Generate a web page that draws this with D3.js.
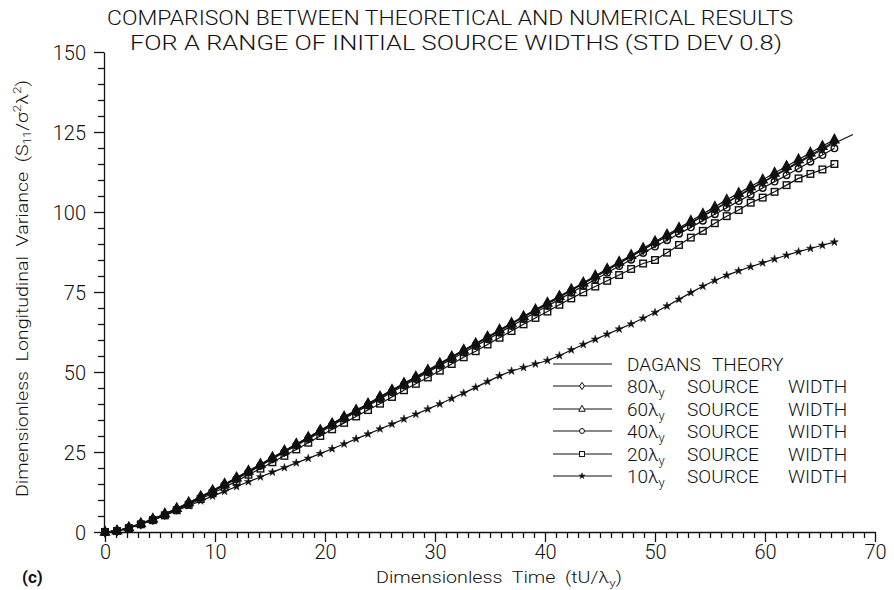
<!DOCTYPE html>
<html>
<head>
<meta charset="utf-8">
<script src="https://cdn.jsdelivr.net/npm/d3@7"></script>
<style>
  body { margin: 0; background: #fff; }
  text { font-family: Roboto, "DejaVu Sans", sans-serif; font-weight: 300; fill: #111; }
</style>
</head>
<body>
<svg id="chart" width="894" height="590"></svg>
<script>
// sample times of the numerical runs (tU/lambda_y)
const time = [0, 1.09, 2.17, 3.26, 4.35, 5.44, 6.52, 7.61, 8.70, 9.78, 10.87, 11.96, 13.04, 14.13, 15.22, 16.31, 17.39, 18.48, 19.57, 20.65,
  21.74, 22.83, 23.91, 25.00, 26.09, 27.18, 28.26, 29.35, 30.44, 31.52, 32.61, 33.70, 34.78, 35.87, 36.96, 38.05, 39.13, 40.22, 41.31, 42.39,
  43.48, 44.57, 45.65, 46.74, 47.83, 48.92, 50.00, 51.09, 52.18, 53.26, 54.35, 55.44, 56.52, 57.61, 58.70, 59.79, 60.87, 61.96, 63.05, 64.13,
  65.22, 66.31];

const width80 = [0, 0.4, 1.4, 2.6, 4.0, 5.6, 7.3, 9.1, 11.0, 12.9, 14.9, 16.9, 19.0, 21.1, 23.2, 25.3, 27.4, 29.5, 31.7, 33.8,
  35.9, 38.0, 40.0, 42.2, 44.3, 46.4, 48.4, 50.5, 52.6, 54.7, 56.8, 58.8, 60.9, 63.0, 65.1, 67.2, 69.3, 71.4, 73.5, 75.6,
  77.7, 79.8, 81.9, 84.1, 86.2, 88.3, 90.4, 92.5, 94.6, 96.7, 98.8, 100.9, 103.0, 105.2, 107.3, 109.4, 111.5, 113.6, 115.7, 117.8,
  119.9, 122.0];
const width60 = [0, 0.4, 1.4, 2.7, 4.1, 5.7, 7.4, 9.2, 11.1, 13.0, 15.0, 17.0, 19.1, 21.2, 23.3, 25.4, 27.5, 29.6, 31.8, 33.9,
  36.0, 38.1, 40.1, 42.3, 44.4, 46.5, 48.5, 50.6, 52.7, 54.8, 56.9, 58.9, 61.0, 63.2, 65.3, 67.4, 69.5, 71.6, 73.7, 75.8,
  77.9, 80.1, 82.2, 84.4, 86.5, 88.7, 90.8, 92.9, 95.0, 97.2, 99.4, 101.6, 103.8, 105.9, 108.0, 110.1, 112.2, 114.3, 116.4, 118.5,
  120.6, 122.6];
const width40 = [0, 0.35, 1.3, 2.5, 3.9, 5.4, 7.0, 8.8, 10.7, 12.6, 14.6, 16.6, 18.6, 20.7, 22.8, 24.9, 27.0, 29.1, 31.2, 33.3,
  35.4, 37.5, 39.5, 41.6, 43.7, 45.8, 47.8, 49.9, 52.0, 54.0, 56.1, 58.1, 60.2, 62.3, 64.4, 66.5, 68.6, 70.6, 72.7, 74.8,
  76.9, 78.9, 81.0, 83.1, 85.1, 87.2, 89.2, 91.2, 93.2, 95.2, 97.3, 99.3, 101.3, 103.4, 105.4, 107.5, 109.5, 111.5, 113.6, 115.7,
  117.8, 119.9];
const width20 = [0, 0.3, 1.2, 2.4, 3.7, 5.2, 6.8, 8.5, 10.3, 12.1, 14.0, 15.9, 17.9, 19.8, 21.8, 23.8, 25.8, 27.9, 30.0, 32.1,
  34.1, 36.1, 38.1, 40.1, 42.2, 44.3, 46.3, 48.3, 50.4, 52.5, 54.6, 56.5, 58.6, 60.7, 62.8, 64.9, 66.9, 68.9, 71.0, 73.0,
  74.9, 76.7, 78.5, 80.3, 82.2, 83.9, 85.0, 87.3, 89.7, 92.0, 94.1, 96.5, 98.7, 100.6, 102.9, 104.5, 106.3, 108.4, 110.5, 111.9,
  113.3, 115.0];
const width10 = [0, 0.35, 1.3, 2.5, 3.8, 5.2, 6.7, 8.2, 9.7, 11.2, 12.7, 14.2, 15.7, 17.2, 18.7, 20.1, 21.6, 23.0, 24.5, 26.0,
  27.5, 29.1, 30.6, 32.2, 33.7, 35.3, 36.8, 38.4, 40.0, 41.7, 43.4, 45.2, 47.0, 48.8, 50.3, 51.4, 52.5, 53.6, 55.1, 56.9,
  58.6, 60.2, 61.8, 63.4, 65.0, 66.8, 68.6, 70.6, 72.7, 74.8, 76.8, 78.6, 80.2, 81.6, 82.9, 84.1, 85.3, 86.5, 87.6, 88.6,
  89.6, 90.6];

// Dagan's theory curve
const theoryTime = [0, 1, 2, 3, 4, 5, 6, 7, 8, 9, 10, 12, 14, 16, 18, 20, 22, 24, 26, 28, 30, 32, 34, 36, 38, 40,
  42, 44, 46, 48, 50, 52, 54, 56, 58, 60, 62, 64, 66, 68];
const theoryValues = [0, 0.3, 1.1, 2.2, 3.4, 4.8, 6.3, 7.9, 9.6, 11.3, 13.1, 16.8, 20.6, 24.5, 28.4, 32.3, 36.2, 40.0, 43.9, 47.7,
  51.5, 55.4, 59.2, 63.1, 67.0, 70.8, 74.7, 78.6, 82.5, 86.4, 90.3, 94.1, 98.0, 101.9, 105.8, 109.6, 113.4, 117.2, 121.0, 124.2];

const seriesNames = ["80", "60", "40", "20", "10"];
const seriesMarkers = ["diamond", "triangle", "circle", "square", "star"];
const seriesValues = [width80, width60, width40, width20, width10];

const xTicks = [0, 10, 20, 30, 40, 50, 60, 70];
const yTicks = [0, 25, 50, 75, 100, 125, 150];

const svg = d3.select("#chart");
const ink = "#111";

const x = d3.scaleLinear().domain([0, 70]).range([105, 875]);
const y = d3.scaleLinear().domain([0, 150]).range([532, 52]);

// marker drawing, centred on 0,0 (inPlot = heavier marks used in the plot area)
function drawMarker(g, type, s, inPlot) {
  const open = inPlot ? "none" : "#fff";
  const sw = inPlot ? 1.4 : 1.0;
  switch (type) {
    case "diamond":
      return g.append("path").attr("d", `M0,${-4.8 * s}L${3.2 * s},0L0,${4.8 * s}L${-3.2 * s},0Z`)
        .attr("fill", inPlot ? ink : "#fff").attr("stroke", ink).attr("stroke-width", sw);
    case "triangle":
      return g.append("path").attr("d", `M0,${-5 * s}L${4.3 * s},${3 * s}L${-4.3 * s},${3 * s}Z`)
        .attr("fill", open).attr("stroke", ink).attr("stroke-width", inPlot ? 1.6 : 1.0);
    case "circle":
      return g.append("circle").attr("r", 3.3 * s)
        .attr("fill", open).attr("stroke", ink).attr("stroke-width", sw);
    case "square":
      return g.append("rect").attr("x", -3.3 * s).attr("y", -3.3 * s).attr("width", 6.6 * s).attr("height", 6.6 * s)
        .attr("fill", open).attr("stroke", ink).attr("stroke-width", sw);
    default:
      return g.append("path").attr("d", d3.symbol(d3.symbolStar, 20 * s * s)())
        .attr("fill", ink).attr("stroke", ink).attr("stroke-width", 0.5);
  }
}

// axes
const yMinor = d3.range(0, 151, 5).filter(v => v % 25 !== 0);
const xMinor = d3.range(0, 71, 1).filter(v => v % 10 !== 0);

svg.append("g").attr("transform", "translate(104,0)")
  .call(d3.axisLeft(y).tickValues(yMinor).tickSize(6).tickSizeOuter(0).tickFormat(""))
  .call(g => g.select(".domain").remove());
const yAxis = svg.append("g").attr("transform", "translate(104,0)")
  .call(d3.axisLeft(y).tickValues(yTicks).tickSize(10).tickSizeOuter(0).tickPadding(8).tickFormat(d3.format("d")));
yAxis.selectAll("text").attr("font-size", 20).attr("fill", ink).attr("dy", "0.35em");

svg.append("g").attr("transform", "translate(0,532)")
  .call(d3.axisBottom(x).tickValues(xMinor).tickSize(6).tickSizeOuter(0).tickFormat(""))
  .call(g => g.select(".domain").remove());
const xAxis = svg.append("g").attr("transform", "translate(0,532)")
  .call(d3.axisBottom(x).tickValues(xTicks).tickSize(10).tickSizeOuter(0).tickPadding(3).tickFormat(d3.format("d")));
xAxis.selectAll("text").attr("font-size", 20).attr("fill", ink);

svg.selectAll(".domain, .tick line").attr("stroke", ink).attr("stroke-width", 1.3);
svg.selectAll(".tick text").style("font-family", "Roboto, 'DejaVu Sans', sans-serif").style("font-weight", 300);

// curves
const line = d3.line().x(d => x(d[0])).y(d => y(d[1]));

svg.append("path")
  .datum(d3.zip(theoryTime, theoryValues))
  .attr("d", line)
  .attr("fill", "none").attr("stroke", ink).attr("stroke-width", 1.2);

seriesValues.forEach((vals, i) => {
  const pts = d3.zip(time, vals);
  svg.append("path").datum(pts).attr("d", line)
    .attr("fill", "none").attr("stroke", ink).attr("stroke-width", 1.2);
  const mg = svg.append("g");
  pts.forEach(p => {
    const g = mg.append("g").attr("transform", `translate(${x(p[0])},${y(p[1])})`);
    drawMarker(g, seriesMarkers[i], 1, true);
  });
});

// legend
const legendRows = [364, 386, 409, 431, 454, 476];
const legend = svg.append("g");
legendRows.forEach((ry, i) => {
  legend.append("line").attr("x1", 553).attr("x2", 612).attr("y1", ry).attr("y2", ry)
    .attr("stroke", ink).attr("stroke-width", 1.2);
  if (i > 0) {
    const g = legend.append("g").attr("transform", `translate(582,${ry})`);
    drawMarker(g, seriesMarkers[i - 1], 0.75, false);
  }
  const t = legend.append("text").attr("y", ry + 7).attr("font-size", 19);
  if (i === 0) {
    t.append("tspan").attr("x", 627).text("DAGANS");
    t.append("tspan").attr("x", 712).text("THEORY");
  } else {
    t.append("tspan").attr("x", 627).text(seriesNames[i - 1] + "λ");
    t.append("tspan").attr("font-size", 13).attr("dy", 4).text("y");
    t.append("tspan").attr("x", 687).attr("dy", -4).text("SOURCE");
    t.append("tspan").attr("x", 788).text("WIDTH");
  }
});

// titles
svg.append("text").attr("x", 107).attr("y", 25).attr("font-size", 21)
  .attr("textLength", 686).attr("lengthAdjust", "spacingAndGlyphs")
  .text("COMPARISON BETWEEN THEORETICAL AND NUMERICAL RESULTS");
svg.append("text").attr("x", 130).attr("y", 50).attr("font-size", 21)
  .attr("textLength", 652).attr("lengthAdjust", "spacingAndGlyphs")
  .text("FOR A RANGE OF INITIAL SOURCE WIDTHS (STD DEV 0.8)");

// axis titles
const yt = svg.append("text").attr("transform", "translate(28,497) rotate(-90)")
  .attr("font-size", 16).attr("textLength", 417).attr("lengthAdjust", "spacingAndGlyphs")
  .attr("xml:space", "preserve");
yt.append("tspan").text("Dimensionless  Longitudinal  Variance  (S");
yt.append("tspan").attr("font-size", 10).attr("dy", 3).text("11");
yt.append("tspan").attr("dy", -3).text("/σ");
yt.append("tspan").attr("font-size", 11).attr("dy", -7).text("2");
yt.append("tspan").attr("dy", 7).text("λ");
yt.append("tspan").attr("font-size", 11).attr("dy", -7).text("2");
yt.append("tspan").attr("dy", 7).text(")");

const xt = svg.append("text").attr("x", 376).attr("y", 583).attr("font-size", 16)
  .attr("textLength", 246).attr("lengthAdjust", "spacingAndGlyphs").attr("xml:space", "preserve");
xt.append("tspan").text("Dimensionless  Time  (tU/λ");
xt.append("tspan").attr("font-size", 11).attr("dy", 4).text("y");
xt.append("tspan").attr("dy", -4).text(")");

svg.append("text").attr("x", 22).attr("y", 583).attr("font-size", 17)
  .style("font-weight", 700).text("(c)");
</script>
</body>
</html>
